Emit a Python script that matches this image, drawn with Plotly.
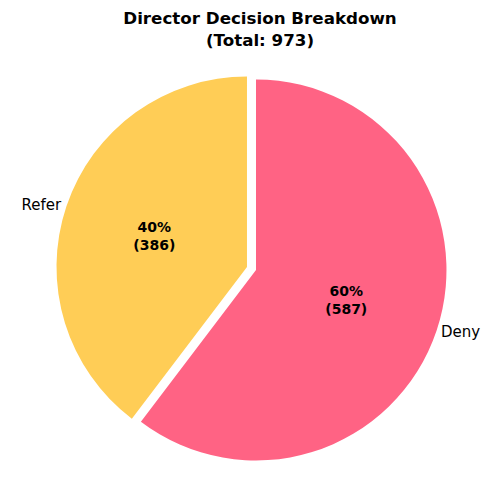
import plotly.graph_objects as go

# ── Data ──────────────────────────────────────────────────────────────────────
labels = ["Deny", "Refer"]
counts = [587, 386]
colors = ["#FF6384", "#FFCD56"]
pulls = [0, 0.05]

total = sum(counts)
font_family = "DejaVu Sans, sans-serif"

fig = go.Figure()

# slice fill + inside value text
fig.add_trace(
    go.Pie(
        labels=labels,
        values=counts,
        sort=False,
        direction="clockwise",
        rotation=0,
        pull=pulls,
        marker=dict(colors=colors, line=dict(width=0)),
        texttemplate="<b>%{percent:.0%}<br>(%{value})</b>",
        textposition="inside",
        insidetextorientation="horizontal",
        textfont=dict(family=font_family, size=14, color="black"),
        automargin=False,
        showlegend=False,
        hoverinfo="label+value+percent",
    )
)

# transparent copy carrying the outside category labels
fig.add_trace(
    go.Pie(
        labels=labels,
        values=counts,
        sort=False,
        direction="clockwise",
        rotation=0,
        pull=pulls,
        marker=dict(colors=["rgba(0,0,0,0)"] * len(labels), line=dict(width=0)),
        texttemplate="%{label}",
        textposition="outside",
        textfont=dict(family=font_family, size=15, color="black"),
        automargin=False,
        showlegend=False,
        hoverinfo="skip",
    )
)

fig.update_layout(
    width=504,
    height=489,
    paper_bgcolor="white",
    plot_bgcolor="white",
    margin=dict(l=48, r=56, t=62, b=27),
    title=dict(
        text=f"<b>Director Decision Breakdown<br>(Total: {total})</b>",
        x=0.5,
        xanchor="center",
        y=1 - 16 / 489,
        yanchor="top",
        yref="container",
        automargin=False,
        font=dict(family=font_family, size=16.7, color="black"),
    ),
)

fig.write_html("out.html")
